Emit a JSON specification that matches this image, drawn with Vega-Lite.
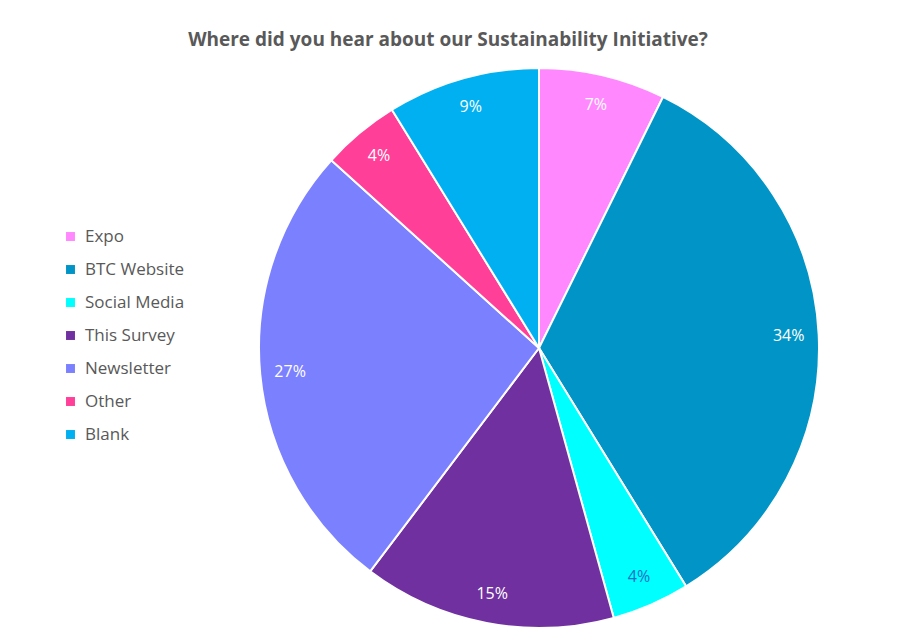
{
  "$schema": "https://vega.github.io/schema/vega-lite/v6.json",
  "autosize": "none",
  "width": 560,
  "height": 560,
  "padding": {"left": 259, "top": 68, "right": 93, "bottom": 9},
  "background": "white",
  "view": {"stroke": null},
  "title": {
    "text": "Where did you hear about our Sustainability Initiative?",
    "anchor": "middle",
    "frame": "group",
    "dx": -91,
    "offset": 14,
    "font": "Open Sans",
    "fontSize": 19,
    "fontWeight": "bold",
    "color": "#595959"
  },
  "data": {
    "values": [
      {"order": 1, "source": "Expo", "value": 7.3, "label": "7%"},
      {"order": 2, "source": "BTC Website", "value": 33.9, "label": "34%"},
      {"order": 3, "source": "Social Media", "value": 4.5, "label": "4%"},
      {"order": 4, "source": "This Survey", "value": 14.6, "label": "15%"},
      {"order": 5, "source": "Newsletter", "value": 26.4, "label": "27%"},
      {"order": 6, "source": "Other", "value": 4.5, "label": "4%"},
      {"order": 7, "source": "Blank", "value": 8.8, "label": "9%"}
    ]
  },
  "encoding": {
    "theta": {"field": "value", "type": "quantitative", "stack": true},
    "order": {"field": "order", "type": "quantitative"},
    "color": {
      "field": "source",
      "type": "nominal",
      "sort": ["Expo", "BTC Website", "Social Media", "This Survey", "Newsletter", "Other", "Blank"],
      "scale": {
        "domain": ["Expo", "BTC Website", "Social Media", "This Survey", "Newsletter", "Other", "Blank"],
        "range": ["#FF88FF", "#0095C6", "#00FFFF", "#7030A0", "#7B80FF", "#FF3F98", "#00B0F0"]
      },
      "legend": {
        "title": null,
        "orient": "none",
        "legendX": -197,
        "legendY": 160,
        "symbolType": "square",
        "symbolSize": 80,
        "symbolStrokeWidth": 0,
        "labelFont": "Open Sans",
        "labelFontSize": 17,
        "labelColor": "#595959",
        "rowPadding": 15,
        "labelOffset": 6
      }
    }
  },
  "layer": [
    {
      "mark": {"type": "arc", "outerRadius": 280, "stroke": "white", "strokeWidth": 2}
    },
    {
      "mark": {"type": "text", "radius": 250, "font": "Open Sans", "fontSize": 16, "fontWeight": 500},
      "encoding": {
        "text": {"field": "label"},
        "color": {
          "condition": {"test": "datum.source === 'Social Media'", "value": "#1F6FC2"},
          "value": "white"
        }
      }
    }
  ]
}
